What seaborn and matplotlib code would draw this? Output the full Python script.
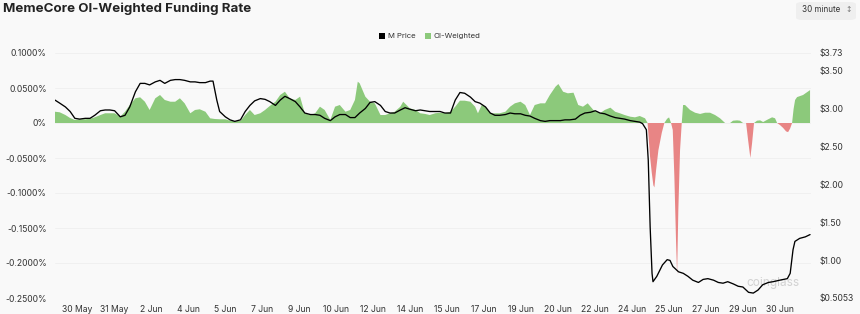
import numpy as np
import matplotlib
matplotlib.use("Agg")
import matplotlib.pyplot as plt
from matplotlib.patches import Patch, FancyBboxPatch
import seaborn as sns

sns.set_theme(style="white")
plt.rcParams['font.family'] = ['Inter', 'DejaVu Sans']

# ---------------- data ----------------
# hours since start of the series
price_hours = [0, 5, 11, 16, 21, 26, 32, 37, 42, 48, 53, 58, 63, 69, 74, 79, 85, 90, 95, 100,
               106, 111, 116, 122, 127, 132, 137, 143, 148, 153, 159, 164, 167, 171, 174, 180, 185, 190,
               196, 201, 206, 211, 217, 222, 227, 233, 238, 243, 248, 254, 259, 264, 270, 275, 280, 285,
               291, 296, 301, 307, 312, 317, 322, 328, 333, 338, 344, 349, 354, 359, 365, 370, 375, 381,
               386, 391, 396, 402, 407, 412, 418, 423, 428, 433, 439, 444, 449, 455, 460, 465, 470, 476,
               481, 486, 492, 497, 502, 507, 513, 518, 523, 529, 534, 539, 544, 550, 555, 560, 566, 571,
               576, 581, 587, 592, 597, 602, 608, 613, 618, 621, 625, 627, 629, 631, 632, 636, 642, 647,
               650, 653, 659, 664, 669, 674, 680, 685, 690, 696, 701, 706, 711, 717, 722, 727, 733, 738,
               743, 748, 754, 759, 766, 774, 777, 780, 782, 787, 793, 798]
price_usd = [3.11, 3.07, 3.02, 2.96, 2.87, 2.86, 2.87, 2.87, 2.91, 2.97, 2.98, 2.98, 2.97, 2.89, 2.91,
             3.02, 3.22, 3.33, 3.33, 3.31, 3.35, 3.37, 3.33, 3.37, 3.38, 3.38, 3.37, 3.35, 3.35, 3.34,
             3.34, 3.36, 3.36, 3.11, 2.96, 2.89, 2.85, 2.83, 2.85, 2.96, 3.04, 3.10, 3.13, 3.12, 3.09,
             3.04, 3.11, 3.16, 3.13, 3.09, 3.02, 2.94, 2.92, 2.92, 2.91, 2.87, 2.84, 2.89, 2.92, 2.92,
             2.88, 2.88, 2.94, 3.00, 3.08, 3.09, 3.04, 2.96, 2.94, 2.94, 2.98, 3.01, 2.99, 2.97, 2.98,
             2.97, 2.96, 2.96, 2.96, 2.94, 2.94, 3.11, 3.21, 3.20, 3.15, 3.09, 3.07, 3.02, 2.94, 2.91,
             2.91, 2.92, 2.94, 2.93, 2.93, 2.91, 2.90, 2.87, 2.84, 2.83, 2.84, 2.84, 2.84, 2.85, 2.85,
             2.86, 2.91, 2.94, 2.95, 2.97, 2.94, 2.93, 2.90, 2.88, 2.87, 2.86, 2.84, 2.83, 2.82, 2.80,
             2.72, 2.32, 1.44, 0.83, 0.72, 0.79, 0.94, 1.01, 1.00, 0.92, 0.85, 0.83, 0.79, 0.74, 0.71,
             0.75, 0.76, 0.74, 0.71, 0.70, 0.72, 0.69, 0.66, 0.65, 0.58, 0.57, 0.61, 0.68, 0.71, 0.72,
             0.74, 0.76, 0.83, 1.14, 1.25, 1.29, 1.31, 1.34]

fund_hours = [0, 5, 11, 16, 21, 26, 32, 37, 42, 48, 53, 58, 63, 69, 74, 79, 85, 90, 95, 100,
              106, 111, 116, 122, 127, 132, 137, 143, 148, 153, 159, 164, 169, 174, 180, 185, 190,
              196, 201, 206, 211, 217, 222, 227, 233, 238, 243, 248, 254, 259, 264, 270, 275, 280,
              285, 291, 296, 301, 307, 312, 317, 320, 322, 328, 333, 338, 344, 349, 354, 359, 365,
              368, 375, 381, 386, 391, 396, 402, 407, 412, 418, 423, 428, 433, 439, 444, 447, 451,
              455, 460, 465, 470, 476, 481, 486, 492, 497, 502, 507, 513, 518, 523, 529, 532, 537,
              542, 548, 553, 558, 563, 569, 571, 576, 581, 587, 592, 597, 602, 608, 613, 618,
              623.6, 626.3, 628.9, 630.7, 632.4, 633.5, 635.3, 637.7, 641.3, 644.0, 646.9, 649.0,
              651.1, 652.9, 654.6, 656.4, 657.5, 658.8, 660.6, 662.4, 663.8, 665.9, 671.2, 676.5,
              681.8, 687.1, 692.3, 697.6, 702.9, 708.2, 713.5, 716.6, 720.9, 724.0, 727.2, 730.4,
              732.5, 734.9, 736.7, 738.8, 742.0, 745.2, 748.4, 753.6, 757.9, 761.0, 763.2, 766.3,
              769.5, 772.7, 774.8, 776.9, 779.0, 780.6, 782.2, 784.3, 790.6, 798.0]
fund_pct = [0.0161, 0.0153, 0.0114, 0.0071, 0.0043, 0.0053, 0.0053, 0.0061, 0.0081, 0.0114,
            0.0139, 0.0139, 0.0139, 0.0090, 0.0161, 0.0257, 0.0353, 0.0367, 0.0304, 0.0186,
            0.0353, 0.0400, 0.0329, 0.0304, 0.0304, 0.0353, 0.0281, 0.0139, 0.0186, 0.0196,
            0.0161, 0.0067, 0.0057, 0.0053, 0.0053, 0.0033, 0.0025, 0.0029, 0.0114, 0.0186,
            0.0114, 0.0139, 0.0186, 0.0243, 0.0304, 0.0400, 0.0447, 0.0353, 0.0329, 0.0376,
            0.0139, 0.0114, 0.0139, 0.0233, 0.0186, 0.0043, 0.0233, 0.0257, 0.0161, 0.0186,
            0.0329, 0.0590, 0.0567, 0.0376, 0.0304, 0.0281, 0.0114, 0.0114, 0.0139, 0.0161,
            0.0233, 0.0304, 0.0210, 0.0186, 0.0139, 0.0130, 0.0114, 0.0139, 0.0147, 0.0139,
            0.0161, 0.0233, 0.0319, 0.0319, 0.0304, 0.0233, 0.0139, 0.0257, 0.0233, 0.0139,
            0.0139, 0.0139, 0.0161, 0.0233, 0.0281, 0.0304, 0.0257, 0.0114, 0.0257, 0.0281,
            0.0281, 0.0400, 0.0519, 0.0557, 0.0447, 0.0424, 0.0433, 0.0257, 0.0233, 0.0281,
            0.0186, 0.0170, 0.0139, 0.0186, 0.0219, 0.0161, 0.0139, 0.0114, 0.0090, 0.0081,
            0.0100, 0.0067, 0.0, -0.048, -0.071, -0.089, -0.092, -0.067, -0.039, -0.014, 0.0,
            0.006, 0.008, 0.0, -0.010, -0.077, -0.171, -0.217, -0.124, -0.039, 0.0, 0.0257,
            0.0257, 0.0186, 0.0147, 0.0129, 0.0147, 0.0147, 0.0114, 0.0067, 0.0, 0.0, 0.0033,
            0.0038, 0.0033, 0.0, 0.0, -0.024, -0.050, -0.029, 0.0, 0.0033, 0.0038, 0.0014,
            0.0052, 0.0081, 0.0067, 0.0, -0.003, -0.007, -0.012, -0.013, -0.008, 0.0, 0.0200,
            0.0329, 0.0370, 0.0400, 0.0470]

x_labels = ["30 May", "31 May", "2 Jun", "4 Jun", "5 Jun", "7 Jun", "9 Jun", "10 Jun", "12 Jun",
            "14 Jun", "15 Jun", "17 Jun", "19 Jun", "20 Jun", "22 Jun", "24 Jun", "25 Jun",
            "27 Jun", "29 Jun", "30 Jun"]
left_ticks = [0.1, 0.05, 0.0, -0.05, -0.1, -0.15, -0.2, -0.25]
left_labels = ["0.1000%", "0.0500%", "0%", "-0.0500%", "-0.1000%", "-0.1500%", "-0.2000%", "-0.2500%"]
right_ticks = [3.73, 3.50, 3.00, 2.50, 2.00, 1.50, 1.00, 0.5053]
right_labels = ["$3.73", "$3.50", "$3.00", "$2.50", "$2.00", "$1.50", "$1.00", "$0.5053"]

# ---------------- style ----------------
BG = "#f9f9f9"
GREEN = "#8cc97b"
RED = "#e88585"
TXT = "#333333"

W, H = 860, 314
fig = plt.figure(figsize=(W / 100, H / 100), dpi=100, facecolor=BG)
ax = fig.add_axes([55 / W, 1 - 298 / H, (811 - 55) / W, (298 - 53) / H])
ax.set_facecolor(BG)

fh = np.array(fund_hours)
fp = np.array(fund_pct)
ax.fill_between(fh, fp, 0, where=fp >= 0, interpolate=True, color=GREEN, lw=0, zorder=2)
ax.fill_between(fh, fp, 0, where=fp <= 0, interpolate=True, color=RED, lw=0, zorder=2)

ax.set_xlim(0, 799)
ax.set_ylim(-0.25, 0.1)
ax.set_yticks(left_ticks)
ax.set_yticklabels(left_labels)
ax.set_xticks(np.linspace(23.3, 766.3, len(x_labels)))
ax.set_xticklabels(x_labels)
ax.tick_params(axis='both', length=0, labelsize=6.2, colors=TXT)
ax.tick_params(axis='y', pad=6)
ax.tick_params(axis='x', pad=5)
ax.grid(axis='y', color='#efefef', lw=0.6, zorder=0)
ax.grid(axis='x', visible=False)
for s in ax.spines.values():
    s.set_visible(False)

ax2 = ax.twinx()
sns.lineplot(x=price_hours, y=price_usd, ax=ax2, color='black', lw=0.95, sort=False, zorder=3)
ax2.set_ylim(0.5053, 3.73)
ax2.set_xlim(0, 799)
ax2.set_yticks(right_ticks)
ax2.set_yticklabels(right_labels)
ax2.tick_params(axis='y', length=0, labelsize=6.2, colors=TXT, pad=6)
ax2.grid(False)
for s in ax2.spines.values():
    s.set_visible(False)

# watermark
ax2.text(0.95, 0.062, "coinglass", transform=ax.transAxes, ha='center', va='center',
         fontsize=8.5, color='#d2d2d2', zorder=1)

# title
fig.text(3 / W, 1 - 9 / H, "MemeCore OI-Weighted Funding Rate", ha='left', va='center',
         fontsize=9.6, fontweight='bold', color='#222222')

# interval selector box
box = FancyBboxPatch((796 / W, 1 - 20 / H), 60 / W, 18 / H,
                     boxstyle="round,pad=0,rounding_size=0.008", transform=fig.transFigure,
                     facecolor='#efefef', edgecolor='none')
fig.patches.append(box)
fig.text(802 / W, 1 - 10 / H, "30 minute", ha='left', va='center', fontsize=5.8, color=TXT)
fig.text(849 / W, 1 - 10 / H, "\u2195", ha='center', va='center', fontsize=5.5, color='#777777',
         family=['DejaVu Sans'])

# legend
handles = [Patch(facecolor='black', edgecolor='none', label='M Price'),
           Patch(facecolor=GREEN, edgecolor='none', label='OI-Weighted')]
fig.legend(handles=handles, loc='center', bbox_to_anchor=(430 / W, 1 - 36 / H), ncol=2,
           frameon=False, fontsize=5.6, handlelength=0.8, handleheight=0.8, handletextpad=0.4,
           columnspacing=1.1, labelcolor=TXT)

fig.savefig("out.png", dpi=100, facecolor=BG)
